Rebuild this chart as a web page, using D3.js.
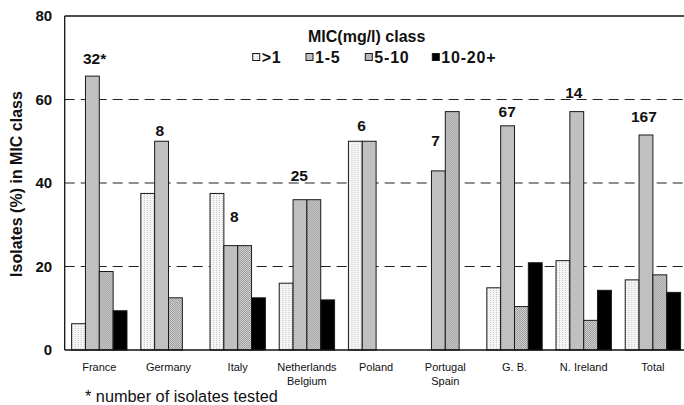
<!DOCTYPE html>
<html>
<head>
<meta charset="utf-8">
<script src="https://cdn.jsdelivr.net/npm/d3@7"></script>
<style>
  body { margin: 0; background: #fff; }
</style>
</head>
<body>
<div id="chart"></div>
<script>
// data (percent of isolates per MIC class)
var categories = ["France", "Germany", "Italy", "Netherlands\nBelgium", "Poland",
                  "Portugal\nSpain", "G. B.", "N. Ireland", "Total"];
var series = [">1", "1-5", "5-10", "10-20+"];
var micGt1   = [6.3, 37.5, 37.5, 16, 50, 0, 14.9, 21.4, 16.8];
var mic1to5  = [65.6, 50, 25, 36, 50, 42.9, 53.7, 57.1, 51.5];
var mic5to10 = [18.8, 12.5, 25, 36, 0, 57.1, 10.4, 7.1, 18.0];
var mic10to20 = [9.4, 0, 12.5, 12, 0, 0, 20.9, 14.3, 13.8];
var counts = ["32*", "8", "8", "25", "6", "7", "67", "14", "167"];
// where each count label sits: bar slot within the group, and height in %
var countSlot  = [1.66, 1.38, 1.75, 1.45, 0.95, 1.3, 1.47, 1.29, 1.35];
var countValue = [69.9, 52.5, 31.9, 41.9, 53.7, 50.3, 57.2, 61.6, 56.0];
var yTicks = [0, 20, 40, 60, 80];
var gridTicks = [20, 40, 60];

var values = [micGt1, mic1to5, mic5to10, mic10to20];

var W = 684, H = 405;
var mLeft = 64.7, mTop = 16, mBottom = 350;

var svg = d3.select("#chart").append("svg")
    .attr("width", W)
    .attr("height", H)
    .style("font-family", "'Liberation Sans', Arial, sans-serif");

// fills
var defs = svg.append("defs");
var p1 = defs.append("pattern").attr("id", "pLight")
    .attr("patternUnits", "userSpaceOnUse").attr("width", 3).attr("height", 2);
p1.append("rect").attr("width", 3).attr("height", 2).attr("fill", "#f6f6f6");
p1.append("rect").attr("x", 1).attr("width", 1).attr("height", 1).attr("fill", "#c4c4c4");
var p3 = defs.append("pattern").attr("id", "pHatch")
    .attr("patternUnits", "userSpaceOnUse").attr("width", 2).attr("height", 2);
p3.append("rect").attr("width", 2).attr("height", 2).attr("fill", "#d2d2d2");
p3.append("rect").attr("width", 1).attr("height", 1).attr("fill", "#9c9c9c");
p3.append("rect").attr("x", 1).attr("y", 1).attr("width", 1).attr("height", 1).attr("fill", "#9c9c9c");

var color = d3.scaleOrdinal()
    .domain(series)
    .range(["url(#pLight)", "#c0c0c0", "url(#pHatch)", "#000"]);

var x = d3.scaleBand()
    .domain(categories)
    .range([mLeft, mLeft + 69.2 * categories.length])
    .padding(0);

var xSub = d3.scaleBand()
    .domain(series)
    .range([x.bandwidth() * 0.1, x.bandwidth() * 0.9])
    .padding(0);

var y = d3.scaleLinear()
    .domain([0, 80])
    .range([mBottom, mTop]);

// dashed grid
svg.append("g").selectAll("line")
    .data(gridTicks)
    .enter().append("line")
    .attr("x1", mLeft).attr("x2", W + 10)
    .attr("y1", function(d) { return y(d); })
    .attr("y2", function(d) { return y(d); })
    .attr("stroke", "#222")
    .attr("stroke-width", 1)
    .attr("stroke-dasharray", "10,6");

// top frame
svg.append("line")
    .attr("x1", mLeft).attr("x2", W + 10)
    .attr("y1", y(80)).attr("y2", y(80))
    .attr("stroke", "#111").attr("stroke-width", 1.3);

// bars
var rows = categories.map(function(c, i) {
  return { cat: c, vals: series.map(function(s, j) { return { key: s, value: values[j][i] }; }) };
});

svg.append("g")
  .selectAll("g")
  .data(rows)
  .enter().append("g")
    .attr("transform", function(d) { return "translate(" + x(d.cat) + ",0)"; })
  .selectAll("rect")
  .data(function(d) { return d.vals.filter(function(v) { return v.value > 0; }); })
  .enter().append("rect")
    .attr("x", function(d) { return xSub(d.key); })
    .attr("y", function(d) { return y(d.value); })
    .attr("width", xSub.bandwidth())
    .attr("height", function(d) { return mBottom - y(d.value); })
    .attr("fill", function(d) { return color(d.key); })
    .attr("stroke", "#1a1a1a")
    .attr("stroke-width", 1);

// axes
svg.append("line")
    .attr("x1", mLeft).attr("x2", mLeft)
    .attr("y1", y(80)).attr("y2", mBottom)
    .attr("stroke", "#111").attr("stroke-width", 1.3);
svg.append("line")
    .attr("x1", mLeft).attr("x2", W + 10)
    .attr("y1", mBottom).attr("y2", mBottom)
    .attr("stroke", "#111").attr("stroke-width", 1.3);

var yAxis = svg.append("g")
    .attr("transform", "translate(" + mLeft + ",0)")
    .call(d3.axisLeft(y).tickValues(yTicks).tickSize(0).tickPadding(12.5));
yAxis.select(".domain").remove();
yAxis.selectAll("text")
    .style("font-family", "'Liberation Sans', Arial, sans-serif")
    .style("font-size", "15px")
    .style("font-weight", "bold")
    .attr("fill", "#111");

// category labels (two lines where needed)
var xAxis = svg.append("g")
    .attr("transform", "translate(0," + mBottom + ")")
    .call(d3.axisBottom(x).tickSize(0).tickPadding(0).tickFormat(""));
xAxis.select(".domain").remove();
xAxis.selectAll(".tick").append("text")
    .attr("text-anchor", "middle")
    .attr("fill", "#111")
    .style("font-family", "'Liberation Sans', Arial, sans-serif")
    .style("font-size", "11px")
    .selectAll("tspan")
    .data(function(d) { return d.split("\n"); })
    .enter().append("tspan")
      .attr("x", 0)
      .attr("y", function(d, i) { return 20.7 + i * 14; })
      .text(function(d) { return d; });

// counts above the groups
svg.append("g").selectAll("text")
    .data(categories)
    .enter().append("text")
    .attr("x", function(d, i) { return x(d) + xSub(series[0]) + countSlot[i] * xSub.bandwidth(); })
    .attr("y", function(d, i) { return y(countValue[i]); })
    .attr("dy", "0.36em")
    .attr("text-anchor", "middle")
    .style("font-size", "15.5px")
    .style("font-weight", "bold")
    .attr("fill", "#111")
    .text(function(d, i) { return counts[i]; });

// y title
svg.append("text")
    .attr("transform", "translate(22,184) rotate(-90)")
    .attr("text-anchor", "middle")
    .style("font-size", "16px")
    .style("font-weight", "bold")
    .attr("fill", "#111")
    .text("Isolates (%) in MIC class");

// legend
svg.append("text")
    .attr("x", 366.7).attr("y", 41.5)
    .attr("text-anchor", "middle")
    .style("font-size", "16px")
    .style("font-weight", "bold")
    .attr("fill", "#111")
    .text("MIC(mg/l) class");

var legendX = [252.7, 306, 365.3, 432.3];
var legend = svg.append("g").selectAll("g")
    .data(series)
    .enter().append("g")
    .attr("transform", function(d, i) { return "translate(" + legendX[i] + ",0)"; });
legend.append("rect")
    .attr("y", 53.5)
    .attr("width", 7).attr("height", 7)
    .attr("fill", function(d) { return color(d); })
    .attr("stroke", "#1a1a1a").attr("stroke-width", 1);
legend.append("text")
    .attr("x", 9).attr("y", 63)
    .style("font-size", "16px")
    .style("font-weight", "bold")
    .style("letter-spacing", "0.8px")
    .attr("fill", "#111")
    .text(function(d) { return d; });

// footnote
svg.append("text")
    .attr("x", 85).attr("y", 402)
    .style("font-size", "16.3px")
    .attr("fill", "#111")
    .text("* number of isolates tested");
</script>
</body>
</html>
